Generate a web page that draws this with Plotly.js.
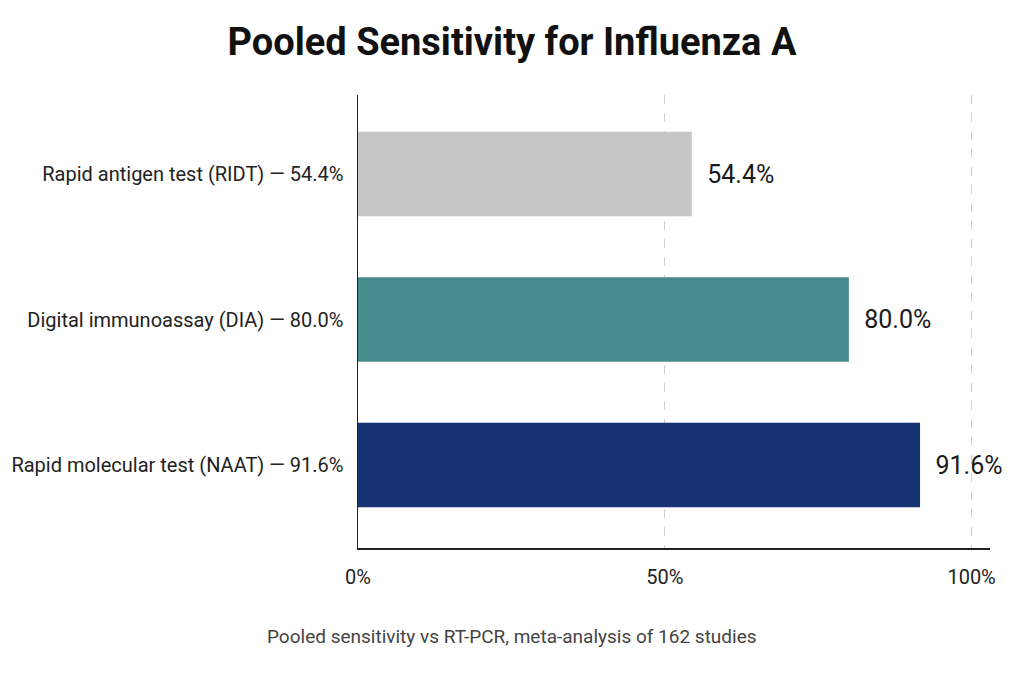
<!DOCTYPE html>
<html>
<head>
<meta charset="utf-8">
<script src="https://cdn.plot.ly/plotly-3.0.1.min.js"></script>
<style>
  html, body { margin: 0; padding: 0; background: #fff; }
  #chart { width: 1024px; height: 676px; }
</style>
</head>
<body>
<div id="chart"></div>
<script>
// test names, top to bottom
var tests = ['Rapid antigen test (RIDT)', 'Digital immunoassay (DIA)', 'Rapid molecular test (NAAT)'];
// pooled sensitivity in percent
var sensitivity = [54.4, 80.0, 91.6];
var barColors = ['#c6c6c6', '#468b8e', '#163373'];
var tickVals = [0, 50, 100];
var tickText = ['0%', '50%', '100%'];

// axis labels carry the value too
var labels = tests.map(function (t, i) { return t + ' — ' + sensitivity[i].toFixed(1) + '%'; });

var trace = {
  type: 'bar',
  orientation: 'h',
  y: labels,
  x: sensitivity,
  marker: { color: barColors },
  text: sensitivity.map(function (v) { return '  ' + v.toFixed(1) + '%'; }),
  textposition: 'outside',
  textfont: { family: 'Roboto, sans-serif', size: 25, color: '#1a1a1a' },
  cliponaxis: false,
  hoverinfo: 'skip'
};

var layout = {
  width: 1024,
  height: 676,
  margin: { l: 358, r: 34, t: 95, b: 128 },
  paper_bgcolor: '#ffffff',
  plot_bgcolor: '#ffffff',
  bargap: 0.42,
  showlegend: false,
  font: { family: 'Roboto, sans-serif', color: '#222' },
  title: {
    text: '<b>Pooled Sensitivity for Influenza A</b>',
    font: { family: 'Roboto, sans-serif', size: 38, color: '#111' },
    x: 0.5, xanchor: 'center',
    y: 0.938, yanchor: 'middle'
  },
  xaxis: {
    range: [0, 103],
    tickvals: tickVals,
    ticktext: tickText,
    tickfont: { size: 20, color: '#222' },
    ticks: '',
    ticklabelstandoff: 10,
    showline: true,
    linecolor: '#222',
    linewidth: 2,
    showgrid: true,
    gridcolor: '#cfcfcf',
    griddash: 'dash',
    gridwidth: 1,
    zeroline: false,
    fixedrange: true
  },
  yaxis: {
    range: [2.57, -0.543],
    tickfont: { size: 20, color: '#222' },
    ticks: '',
    ticklabelstandoff: 9,
    showline: true,
    linecolor: '#222',
    linewidth: 1.5,
    showgrid: false,
    zeroline: false,
    fixedrange: true
  },
  annotations: [{
    text: 'Pooled sensitivity vs RT-PCR, meta-analysis of 162 studies',
    xref: 'paper', yref: 'paper',
    x: 0.2437, y: -0.196,
    xanchor: 'center', yanchor: 'middle',
    showarrow: false,
    font: { family: 'Roboto, sans-serif', size: 19, color: '#444' }
  }]
};

Plotly.newPlot('chart', [trace], layout, { displayModeBar: false, staticPlot: true });
</script>
</body>
</html>
